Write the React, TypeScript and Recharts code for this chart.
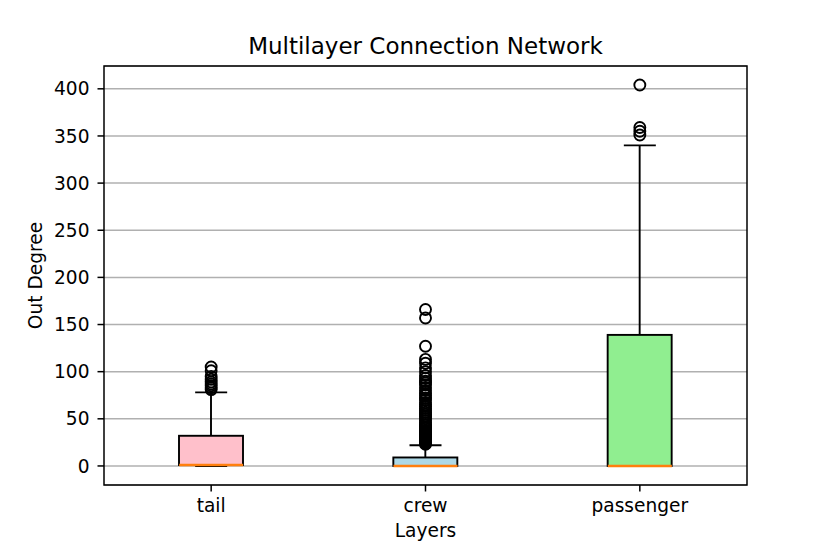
import React from 'react';
import {
  Bar,
  CartesianGrid,
  ComposedChart,
  ReferenceArea,
  Scatter,
  XAxis,
  YAxis,
} from 'recharts';

// five-number summaries
const layers = ['tail', 'crew', 'passenger'];
const lowWhisker = [0, 0, 0];
const q1 = [1, 0, 0];
const medians = [1, 0, 0];
const q3 = [32, 9, 139];
const highWhisker = [78, 22, 340];

const tailOutliers = [81, 83, 85, 87, 89, 92, 95, 101, 105];
const crewOutliers = [
  23, 24, 25, 26, 27, 28, 29, 30, 31, 32, 33, 34, 35, 36, 37, 38, 40, 41, 43, 44,
  46, 48, 50, 52, 53, 55, 57, 59, 61, 63, 65, 67, 70, 72, 75, 77, 80, 83, 86, 88,
  90, 93, 96, 100, 104, 109, 113, 127, 157, 166,
];
const passengerOutliers = [351, 355, 359, 404];

const yTicks = [0, 50, 100, 150, 200, 250, 300, 350, 400];
const yDomain: [number, number] = [-20.2, 424.2];

const boxColors: Record<string, string> = {
  tail: '#ffc0cb',
  crew: '#add8e6',
  passenger: '#90ee90',
};

const boxData = layers.map((layer, i) => ({
  layer,
  base: lowWhisker[i],
  lower: q1[i] - lowWhisker[i],
  box: q3[i] - q1[i],
  upper: highWhisker[i] - q3[i],
}));

const capData = layers.flatMap((layer, i) => [
  { layer, value: lowWhisker[i] },
  { layer, value: highWhisker[i] },
]);
const medianData = layers.map((layer, i) => ({ layer, value: medians[i] }));
const outlierData = [
  ...tailOutliers.map((value) => ({ layer: 'tail', value })),
  ...crewOutliers.map((value) => ({ layer: 'crew', value })),
  ...passengerOutliers.map((value) => ({ layer: 'passenger', value })),
];

const W = 830;
const H = 554;
const FONT = '"DejaVu Sans", sans-serif';
const FS = 18.6;
const BOX_W = 64;
const LW = 1.9;

const WhiskerShape = (props: any) => {
  const { x, y, width, height } = props;
  if (!height) return <g />;
  const cx = x + width / 2;
  return <line x1={cx} x2={cx} y1={y} y2={y + height} stroke="#000" strokeWidth={LW} />;
};

const BoxShape = (props: any) => {
  const { x, y, width, height, payload } = props;
  return (
    <rect
      x={x}
      y={y}
      width={width}
      height={height}
      fill={boxColors[payload.layer]}
      stroke="#000"
      strokeWidth={LW}
    />
  );
};

const CapShape = (props: any) => {
  const { cx, cy } = props;
  return <line x1={cx - BOX_W / 4} x2={cx + BOX_W / 4} y1={cy} y2={cy} stroke="#000" strokeWidth={LW} />;
};

const MedianShape = (props: any) => {
  const { cx, cy } = props;
  return <line x1={cx - BOX_W / 2} x2={cx + BOX_W / 2} y1={cy} y2={cy} stroke="#ff7f0e" strokeWidth={2.4} />;
};

const OutlierShape = (props: any) => {
  const { cx, cy } = props;
  return <circle cx={cx} cy={cy} r={5.5} fill="none" stroke="#000" strokeWidth={LW} />;
};

export default function App() {
  return (
    <div
      style={{
        position: 'absolute',
        left: 0,
        top: 0,
        width: W,
        height: H,
        background: '#fff',
        fontFamily: FONT,
      }}
    >
      <div
        style={{
          position: 'absolute',
          left: 104,
          width: 643,
          top: 32.5,
          textAlign: 'center',
          fontSize: 23,
          color: '#000',
          lineHeight: 'normal',
        }}
      >
        Multilayer Connection Network
      </div>
      <ComposedChart
        width={W}
        height={H}
        data={boxData}
        margin={{ top: 66, right: 83, bottom: 39, left: 0 }}
        barSize={BOX_W}
        style={{ fontFamily: FONT }}
      >
        <CartesianGrid vertical={false} stroke="#b0b0b0" strokeWidth={1.5} />
        <XAxis
          dataKey="layer"
          type="category"
          allowDuplicatedCategory={false}
          height={30}
          axisLine={false}
          tickLine={{ stroke: '#000', strokeWidth: 1.5 }}
          tickSize={6.5}
          tickMargin={7}
          tick={{ fill: '#000', fontSize: FS }}
          label={{ value: 'Layers', position: 'bottom', offset: 9, fill: '#000', fontSize: FS }}
        />
        <YAxis
          type="number"
          domain={yDomain}
          ticks={yTicks}
          allowDataOverflow
          width={104}
          axisLine={false}
          tickLine={{ stroke: '#000', strokeWidth: 1.5 }}
          tickSize={6.5}
          tickMargin={8}
          tick={{ fill: '#000', fontSize: FS }}
          label={{
            value: 'Out Degree',
            angle: -90,
            position: 'insideLeft',
            offset: 35,
            fill: '#000',
            fontSize: FS,
            style: { textAnchor: 'middle' },
          }}
        />
        <Bar dataKey="base" stackId="s" fill="none" isAnimationActive={false} />
        <Bar dataKey="lower" stackId="s" shape={WhiskerShape} isAnimationActive={false} />
        <Bar dataKey="box" stackId="s" shape={BoxShape} isAnimationActive={false} />
        <Bar dataKey="upper" stackId="s" shape={WhiskerShape} isAnimationActive={false} />
        <Scatter data={capData} dataKey="value" shape={CapShape} isAnimationActive={false} />
        <Scatter data={medianData} dataKey="value" shape={MedianShape} isAnimationActive={false} />
        <Scatter data={outlierData} dataKey="value" shape={OutlierShape} isAnimationActive={false} />
        <ReferenceArea y1={yDomain[0]} y2={yDomain[1]} fill="none" stroke="#000" strokeWidth={1.5} ifOverflow="visible" />
      </ComposedChart>
    </div>
  );
}
